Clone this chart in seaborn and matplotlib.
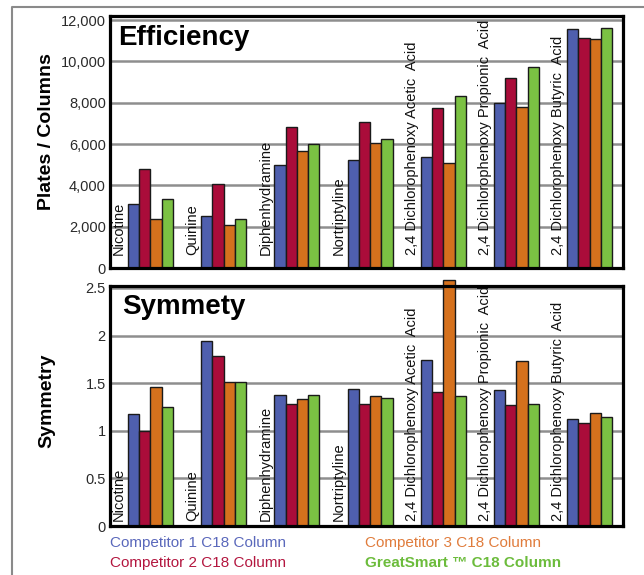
import matplotlib
matplotlib.use("Agg")
import matplotlib.pyplot as plt
import matplotlib.ticker as mticker
from matplotlib.lines import Line2D
import seaborn as sns
import pandas as pd

plt.rcParams['font.family'] = ['Liberation Sans', 'DejaVu Sans']

compounds = ["Nicotine", "Quinine", "Diphenhydramine", "Nortriptyline",
             "2,4 Dichlorophenoxy Acetic  Acid",
             "2,4 Dichlorophenoxy Propionic  Acid",
             "2,4 Dichlorophenoxy Butyric  Acid"]
columns = ["Competitor 1 C18 Column", "Competitor 2 C18 Column",
           "Competitor 3 C18 Column", "GreatSmart \u2122 C18 Column"]

eff_c1 = [3100, 2500, 5000, 5230, 5380, 8000, 11550]
eff_c2 = [4800, 4050, 6830, 7090, 7770, 9220, 11150]
eff_c3 = [2350, 2080, 5650, 6070, 5060, 7800, 11080]
eff_gs = [3330, 2350, 6000, 6250, 8350, 9720, 11600]

sym_c1 = [1.18, 1.94, 1.38, 1.44, 1.74, 1.43, 1.12]
sym_c2 = [1.00, 1.79, 1.28, 1.28, 1.41, 1.27, 1.08]
sym_c3 = [1.46, 1.51, 1.33, 1.37, 2.58, 1.73, 1.19]
sym_gs = [1.25, 1.51, 1.38, 1.34, 1.37, 1.28, 1.14]

eff_ticks = [0, 2000, 4000, 6000, 8000, 10000, 12000]
sym_ticks = [0, 0.5, 1, 1.5, 2, 2.5]

bar_colors = ["#4f5fae", "#aa0c3a", "#d5711d", "#7bc143"]
text_colors = ["#5a68bb", "#b3163f", "#e07c3c", "#6cbc3c"]


def long_df(series):
    rows = []
    for col, vals in zip(columns, series):
        for comp, v in zip(compounds, vals):
            rows.append({"compound": comp, "column": col, "value": v})
    return pd.DataFrame(rows)


df_eff = long_df([eff_c1, eff_c2, eff_c3, eff_gs])
df_sym = long_df([sym_c1, sym_c2, sym_c3, sym_gs])

fig = plt.figure(figsize=(6.44, 5.75), dpi=100)
ax1 = fig.add_axes([110 / 644, 1 - 268 / 575, 513 / 644, 252 / 575])
ax2 = fig.add_axes([110 / 644, 1 - 526 / 575, 513 / 644, 240 / 575])


def draw(ax, df, ylim, ticks, fmt, title, title_x, ylabel, ylab_y, lab_off):
    sns.barplot(data=df, x="compound", y="value", hue="column",
                order=compounds, hue_order=columns, palette=bar_colors,
                saturation=1, width=0.615, edgecolor="#1a1a1a", linewidth=1,
                legend=False, ax=ax, errorbar=None)
    ax.set_xlim(-0.553, 6.455)
    ax.set_ylim(*ylim)
    ax.set_yticks(ticks)
    ax.yaxis.set_major_formatter(fmt)
    ax.yaxis.grid(True, color="#8e8e8e", linewidth=1.8)
    ax.set_axisbelow(True)
    ax.tick_params(axis="x", bottom=False, labelbottom=False)
    ax.tick_params(axis="y", length=0, pad=3, labelsize=10.5, labelcolor="#2a2a2a")
    ax.set_xlabel("")
    ax.set_ylabel(ylabel, fontsize=14, fontweight="bold")
    ax.yaxis.set_label_coords(-0.107, ylab_y)
    for sp in ax.spines.values():
        sp.set_color("black")
        sp.set_linewidth(2.3)
        sp.set_zorder(5)
    for p in ax.patches:
        p.set_clip_on(False)
    ax.text(title_x, 0.885, title, transform=ax.transAxes, fontsize=20,
            fontweight="bold", va="baseline", ha="left")
    trans = ax.get_xaxis_transform()
    for i, comp in enumerate(compounds):
        ax.text(i - 0.43, lab_off, comp, transform=trans, rotation=90,
                ha="center", va="bottom", fontsize=10.5, color="#111111",
                clip_on=True)


draw(ax1, df_eff, (0, 12200), eff_ticks,
     mticker.FuncFormatter(lambda v, p: f"{int(v):,}"),
     "Efficiency", 0.0156, "Plates / Columns", 0.54, 0.052)
draw(ax2, df_sym, (0, 2.52), sym_ticks,
     mticker.FuncFormatter(lambda v, p: f"{v:g}"),
     "Symmety", 0.023, "Symmetry", 0.52, 0.022)

# legend-like captions
fig.text(110 / 644, 1 - 543 / 575, columns[0], color=text_colors[0],
         fontsize=11, va="center", ha="left")
fig.text(110 / 644, 1 - 563 / 575, columns[1], color=text_colors[1],
         fontsize=11, va="center", ha="left")
fig.text(365 / 644, 1 - 543 / 575, columns[2], color=text_colors[2],
         fontsize=11, va="center", ha="left")
fig.text(365 / 644, 1 - 563 / 575, columns[3], color=text_colors[3],
         fontsize=11, va="center", ha="left", fontweight="bold")

# outer frame lines
fig.add_artist(Line2D([12 / 644, 12 / 644, 1.0], [0.0, 1 - 7 / 575, 1 - 7 / 575],
                      transform=fig.transFigure, color="#8a8a8a", linewidth=1.5))

fig.savefig("out.png", dpi=100)
